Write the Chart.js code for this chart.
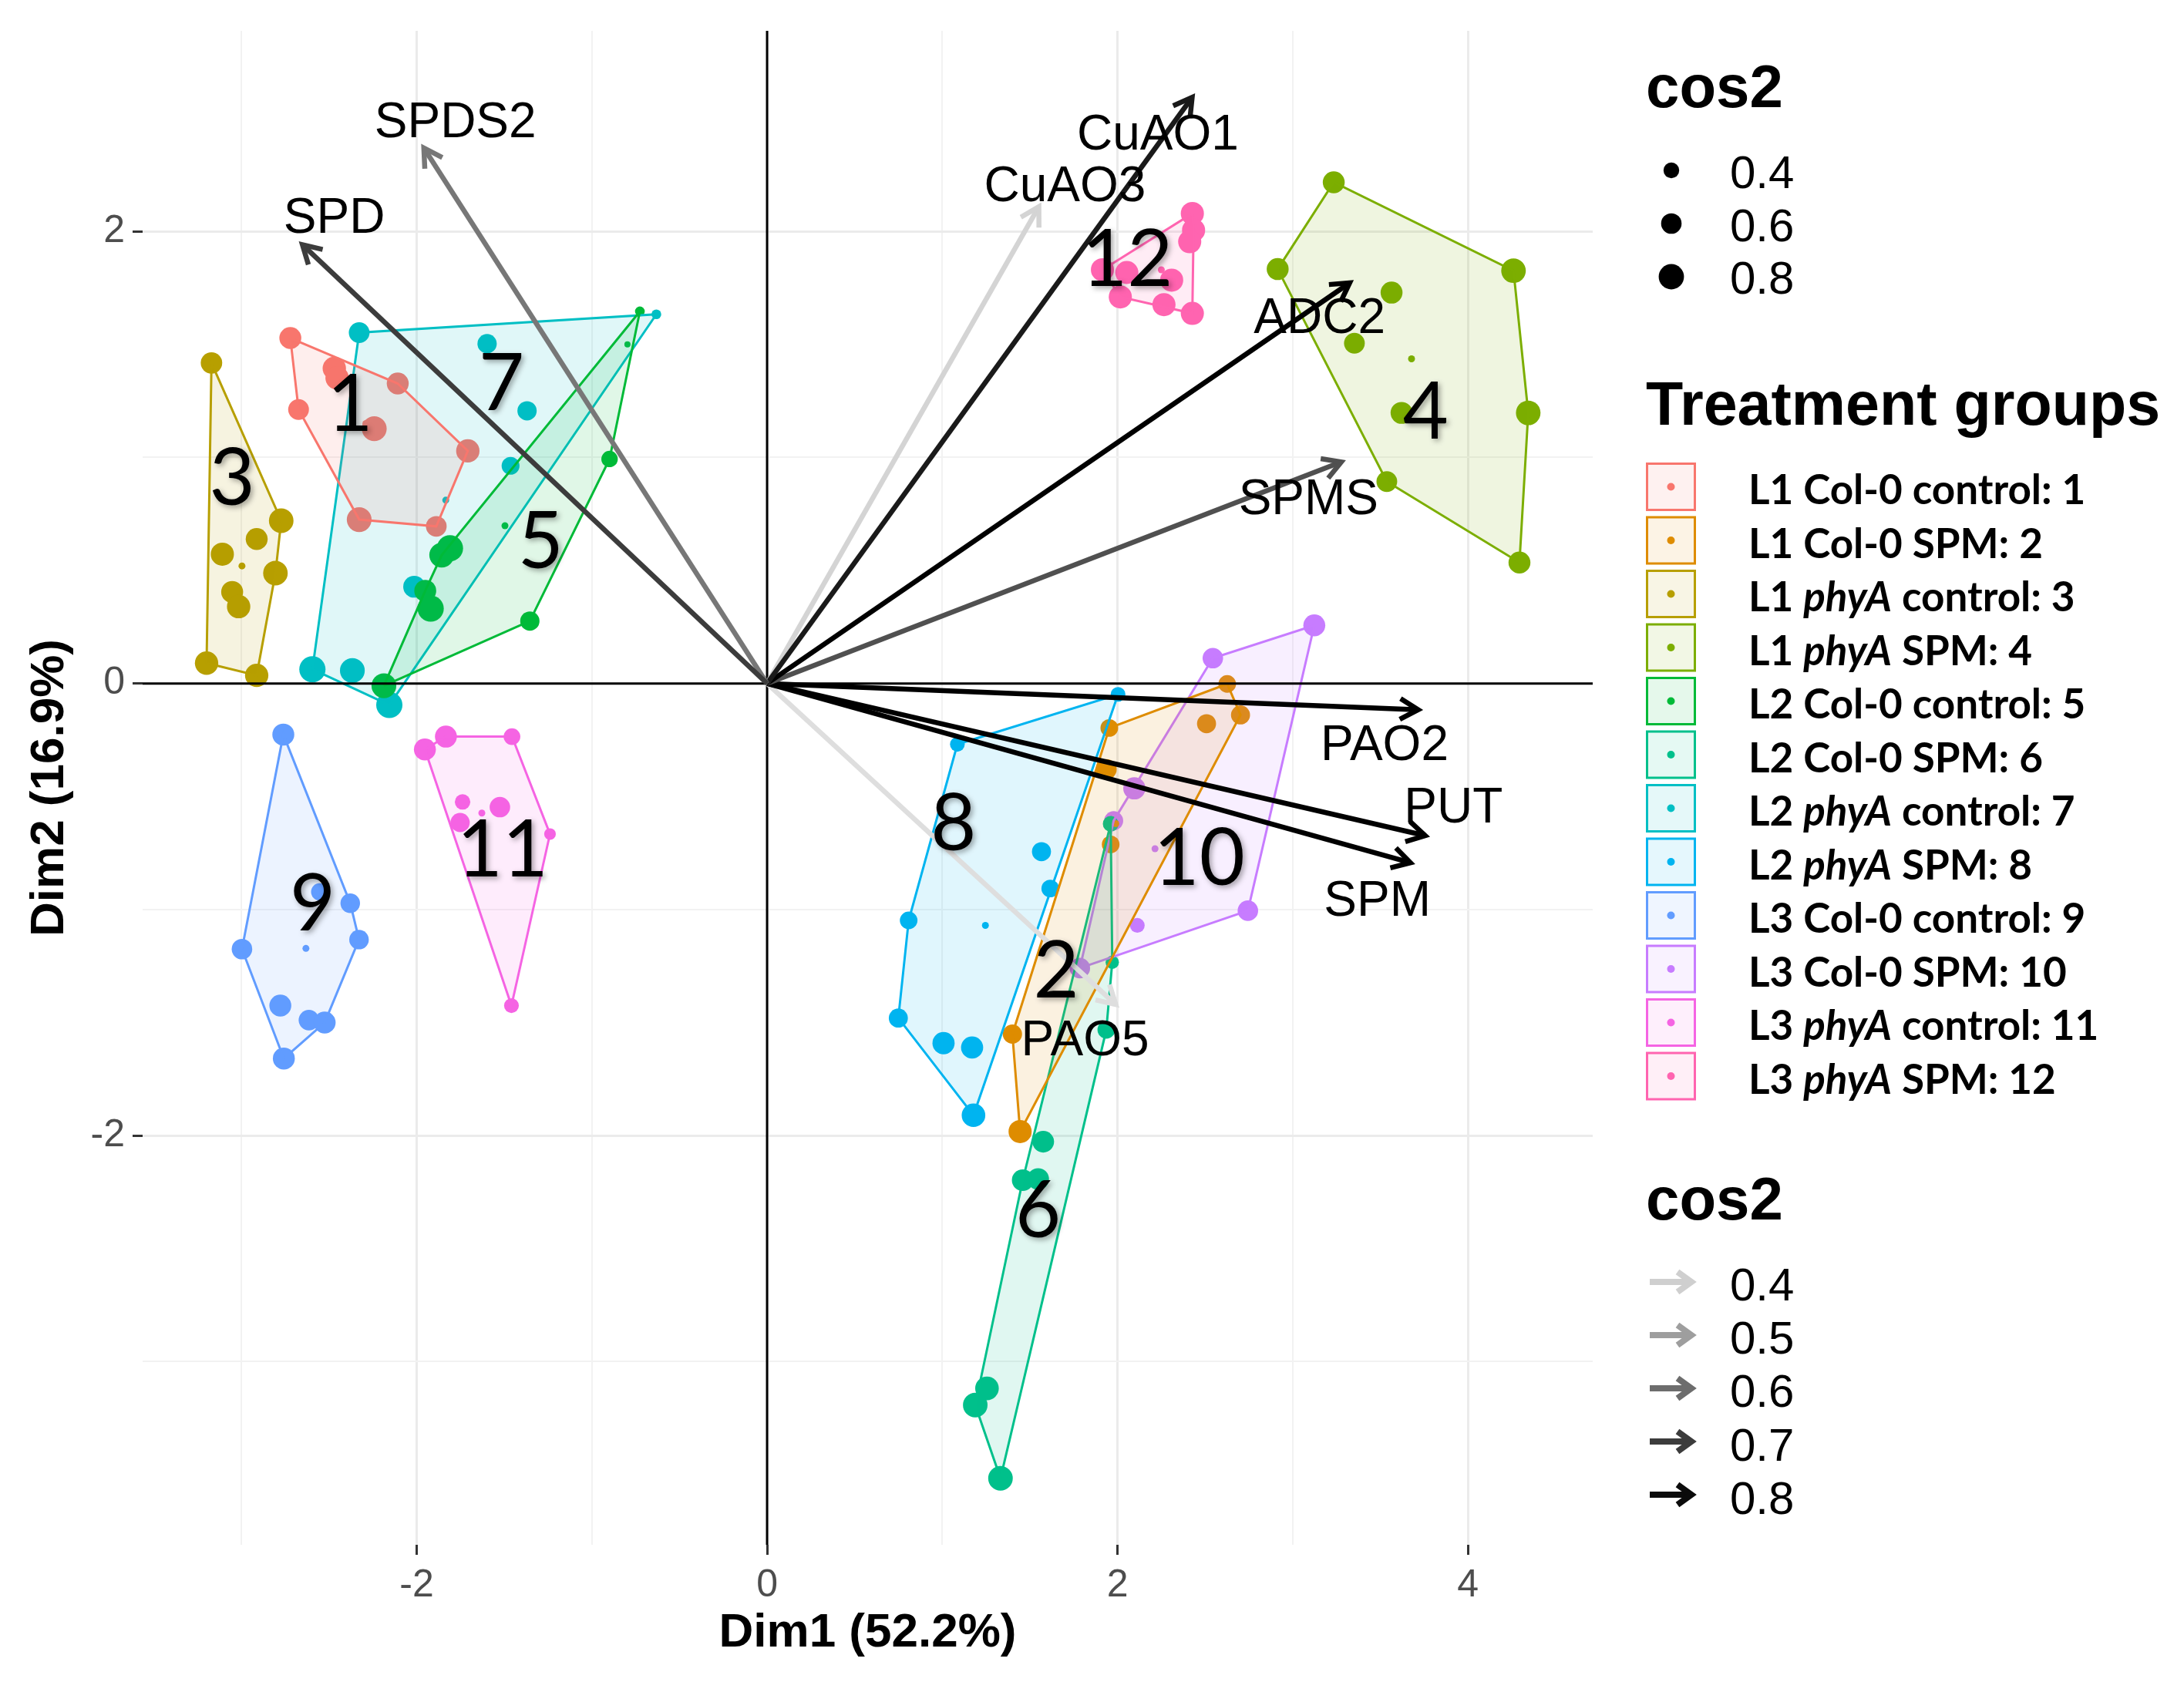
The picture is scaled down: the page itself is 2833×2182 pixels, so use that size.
<!DOCTYPE html>
<html>
<head>
<meta charset="utf-8">
<title>PCA biplot</title>
<script src="https://cdn.jsdelivr.net/npm/chart.js@4.4.1/dist/chart.umd.min.js"></script>
<style>
  html, body { margin: 0; padding: 0; background: #ffffff; }
  #wrap { position: relative; width: 2833px; height: 2182px; }
  canvas { display: block; }
</style>
</head>
<body>
<div id="wrap"><canvas id="biplot" width="2833" height="2182"></canvas></div>
<script>
// axis ranges and ticks
const xRange = [-3.564, 4.712];
const yRange = [-3.810, 2.887];
const xMajorTicks = [-2, 0, 2, 4];
const xMinorTicks = [-3, -1, 1, 3];
const yMajorTicks = [-2, 0, 2];
const yMinorTicks = [-3, -1, 1];

// treatment groups
const groupNames = [
  'L1 Col-0 control: 1', 'L1 Col-0 SPM: 2', 'L1 phyA control: 3', 'L1 phyA SPM: 4',
  'L2 Col-0 control: 5', 'L2 Col-0 SPM: 6', 'L2 phyA control: 7', 'L2 phyA SPM: 8',
  'L3 Col-0 control: 9', 'L3 Col-0 SPM: 10', 'L3 phyA control: 11', 'L3 phyA SPM: 12'
];
const groupColors = [
  '#F8766D', '#DE8C00', '#B79F00', '#7CAE00', '#00BA38', '#00C08B',
  '#00BFC4', '#00B4F0', '#619CFF', '#C77CFF', '#F564E3', '#FF64B0'
];

// individuals: [Dim1, Dim2, cos2]
const grp1 = [[-2.721, 1.528, 0.66], [-2.470, 1.394, 0.72], [-2.454, 1.352, 0.72], [-2.108, 1.327, 0.66],
  [-2.674, 1.212, 0.61], [-2.242, 1.127, 0.78], [-1.708, 1.029, 0.72], [-2.328, 0.725, 0.78], [-1.888, 0.695, 0.61]];
const grp2 = [[2.626, -0.002, 0.48], [2.702, -0.139, 0.54], [2.508, -0.178, 0.54], [1.953, -0.197, 0.48],
  [1.936, -0.380, 0.61], [1.961, -0.712, 0.48], [1.400, -1.551, 0.55], [1.444, -1.982, 0.71]];
const grp3 = [[-3.171, 1.418, 0.64], [-2.773, 0.720, 0.77], [-2.913, 0.639, 0.66], [-3.109, 0.572, 0.71],
  [-2.806, 0.488, 0.77], [-3.053, 0.405, 0.66], [-3.016, 0.340, 0.72], [-3.199, 0.090, 0.72], [-2.913, 0.036, 0.72]];
const grp4 = [[3.234, 2.217, 0.66], [2.914, 1.833, 0.66], [4.260, 1.826, 0.77], [3.564, 1.729, 0.66],
  [3.352, 1.505, 0.61], [3.621, 1.197, 0.66], [4.344, 1.197, 0.77], [3.537, 0.893, 0.61], [4.294, 0.535, 0.66]];
const grp5 = [[-0.726, 1.646, 0.15], [-0.797, 1.500, 0.0], [-0.899, 0.993, 0.43], [-1.810, 0.598, 0.84],
  [-1.857, 0.568, 0.78], [-1.951, 0.410, 0.66], [-1.920, 0.331, 0.84], [-1.354, 0.276, 0.55], [-2.187, -0.010, 0.78]];
const grp6 = [[1.961, -0.621, 0.40], [1.970, -1.233, 0.30], [1.936, -1.532, 0.48], [1.576, -2.027, 0.65],
  [1.459, -2.197, 0.65], [1.547, -2.192, 0.65], [1.255, -3.118, 0.73], [1.188, -3.192, 0.77], [1.332, -3.516, 0.77]];
const grp7 = [[-2.328, 1.552, 0.61], [-1.598, 1.503, 0.55], [-0.632, 1.633, 0.15], [-1.370, 1.206, 0.55],
  [-1.464, 0.963, 0.49], [-2.014, 0.428, 0.66], [-2.595, 0.063, 0.84], [-2.367, 0.057, 0.78], [-2.156, -0.095, 0.84]];
const grp8 = [[2.003, -0.048, 0.36], [1.086, -0.269, 0.36], [1.566, -0.744, 0.54], [1.616, -0.907, 0.48],
  [0.808, -1.048, 0.48], [0.749, -1.480, 0.54], [1.007, -1.591, 0.67], [1.170, -1.610, 0.67], [1.178, -1.910, 0.73]];
const grp9 = [[-2.761, -0.226, 0.66], [-2.379, -0.972, 0.56], [-2.329, -1.133, 0.56], [-2.553, -0.922, 0.47],
  [-2.997, -1.175, 0.60], [-2.778, -1.425, 0.66], [-2.615, -1.489, 0.60], [-2.525, -1.500, 0.66], [-2.758, -1.659, 0.66]];
const grp10 = [[3.123, 0.257, 0.66], [2.544, 0.112, 0.60], [2.096, -0.464, 0.67], [1.978, -0.607, 0.54],
  [2.113, -1.070, 0.36], [2.744, -1.005, 0.60], [1.785, -1.259, 0.60]];
const grp11 = [[-1.953, -0.292, 0.66], [-1.833, -0.235, 0.66], [-1.456, -0.235, 0.44], [-1.738, -0.524, 0.39],
  [-1.525, -0.547, 0.60], [-1.752, -0.615, 0.55], [-1.239, -0.666, 0.23], [-1.459, -1.425, 0.36]];
const grp12 = [[2.427, 2.079, 0.71], [2.434, 2.005, 0.71], [2.412, 1.954, 0.71], [1.914, 1.830, 0.71],
  [2.053, 1.818, 0.71], [2.309, 1.784, 0.71], [2.016, 1.710, 0.71], [2.265, 1.676, 0.71], [2.427, 1.637, 0.71]];
const groupPoints = [grp1, grp2, grp3, grp4, grp5, grp6, grp7, grp8, grp9, grp10, grp11, grp12];

// group mean points and group number labels
const groupMeanX = [-2.29, 1.99, -2.997, 3.678, -1.496, 1.58, -1.834, 1.246, -2.632, 2.214, -1.628, 2.25];
const groupMeanY = [1.15, -0.62, 0.520, 1.436, 0.698, -2.18, 0.811, -1.070, -1.172, -0.731, -0.573, 1.83];
const groupLabelX = [-2.38, 1.65, -3.053, 3.759, -1.292, 1.547, -1.516, 1.064, -2.593, 2.467, -1.51, 2.056];
const groupLabelY = [1.245, -1.262, 0.915, 1.208, 0.638, -2.323, 1.337, -0.610, -0.966, -0.766, -0.728, 1.884];

// variables (arrows)
const varNames = ['SPD', 'SPDS2', 'CuAO1', 'CuAO3', 'ADC2', 'SPMS', 'PAO2', 'PUT', 'SPM', 'PAO5'];
const varX = [-2.652, -1.959, 2.426, 1.551, 3.325, 3.277, 3.716, 3.756, 3.672, 1.99];
const varY = [1.941, 2.369, 2.593, 2.109, 1.772, 0.980, -0.116, -0.673, -0.793, -1.42];
const varCos2 = [0.70, 0.58, 0.77, 0.39, 0.86, 0.66, 0.84, 0.87, 0.85, 0.37];
const varLabelX = [-2.47, -1.779, 2.23, 1.70, 3.153, 3.09, 3.524, 3.917, 3.483, 1.815];
const varLabelY = [2.072, 2.495, 2.441, 2.213, 1.628, 0.828, -0.262, -0.538, -0.948, -1.565];

// legend values
const sizeLegendValues = [0.4, 0.6, 0.8];
const colorLegendValues = [0.4, 0.5, 0.6, 0.7, 0.8];

const SANS = '"Liberation Sans", Arial, sans-serif';
Chart.defaults.font.family = SANS;
Chart.defaults.font.size = 50;

// cos2 -> point radius, cos2 -> arrow grey
function radiusFor(c) { return 4 + 15.5 * c; }
function greyFor(c) {
  const v = Math.round(Math.max(0, Math.min(225, 207 - (c - 0.4) * 490)));
  return 'rgb(' + v + ',' + v + ',' + v + ')';
}
function withAlpha(hex, a) {
  const n = parseInt(hex.slice(1), 16);
  return 'rgba(' + (n >> 16) + ',' + ((n >> 8) & 255) + ',' + (n & 255) + ',' + a + ')';
}

// convex hull (monotone chain), closed
function convexHull(pts) {
  const p = pts.map(q => ({x: q[0], y: q[1]})).sort((a, b) => a.x - b.x || a.y - b.y);
  const cross = (o, a, b) => (a.x - o.x) * (b.y - o.y) - (a.y - o.y) * (b.x - o.x);
  const lower = [], upper = [];
  p.forEach(q => {
    while (lower.length >= 2 && cross(lower[lower.length - 2], lower[lower.length - 1], q) <= 0) lower.pop();
    lower.push(q);
  });
  for (let i = p.length - 1; i >= 0; i--) {
    const q = p[i];
    while (upper.length >= 2 && cross(upper[upper.length - 2], upper[upper.length - 1], q) <= 0) upper.pop();
    upper.push(q);
  }
  lower.pop(); upper.pop();
  const hull = lower.concat(upper);
  hull.push(hull[0]);
  return hull;
}

const datasets = [];

// arrows on top
varNames.forEach((name, i) => {
  datasets.push({
    type: 'line', label: name, arrow: true,
    data: [{x: 0, y: 0}, {x: varX[i], y: varY[i]}],
    borderColor: greyFor(varCos2[i]), borderWidth: 6.5,
    pointRadius: 0, pointHitRadius: 0, fill: false, order: 1
  });
});

// reference lines at 0
datasets.push({
  type: 'line', data: [{x: xRange[0], y: 0}, {x: xRange[1], y: 0}],
  borderColor: '#000000', borderWidth: 3, pointRadius: 0, fill: false, order: 2
});
datasets.push({
  type: 'line', data: [{x: 0, y: yRange[0]}, {x: 0, y: yRange[1]}],
  borderColor: '#000000', borderWidth: 3, pointRadius: 0, fill: false, order: 2
});

// convex hulls
groupPoints.forEach((pts, g) => {
  datasets.push({
    type: 'line', data: convexHull(pts),
    borderColor: groupColors[g], borderWidth: 3,
    backgroundColor: withAlpha(groupColors[g], 0.12), fill: 'shape',
    pointRadius: 0, pointHitRadius: 0, tension: 0, order: 3
  });
});

// group means
datasets.push({
  type: 'scatter',
  data: groupMeanX.map((x, i) => ({x: x, y: groupMeanY[i]})),
  pointRadius: 4.5, pointBackgroundColor: groupColors, pointBorderWidth: 0, order: 3.5
});

// individuals
groupPoints.forEach((pts, g) => {
  datasets.push({
    type: 'scatter',
    data: pts.map(p => ({x: p[0], y: p[1]})),
    pointRadius: pts.map(p => radiusFor(p[2])),
    pointBackgroundColor: groupColors[g], pointBorderWidth: 0, order: 4
  });
});

// arrow heads for the variable segments
const arrowHeads = {
  id: 'arrowHeads',
  afterDatasetsDraw(chart) {
    const ctx = chart.ctx;
    const area = chart.chartArea;
    chart.data.datasets.forEach((ds, i) => {
      if (!ds.arrow) return;
      const pts = chart.getDatasetMeta(i).data;
      const a = pts[0], b = pts[1];
      const ang = Math.atan2(b.y - a.y, b.x - a.x);
      const L = 27;
      ctx.save();
      ctx.beginPath();
      ctx.rect(area.left, area.top, area.right - area.left, area.bottom - area.top);
      ctx.clip();
      ctx.strokeStyle = ds.borderColor;
      ctx.lineWidth = ds.borderWidth;
      ctx.lineJoin = 'miter';
      ctx.beginPath();
      ctx.moveTo(b.x - L * Math.cos(ang - Math.PI / 6), b.y - L * Math.sin(ang - Math.PI / 6));
      ctx.lineTo(b.x, b.y);
      ctx.lineTo(b.x - L * Math.cos(ang + Math.PI / 6), b.y - L * Math.sin(ang + Math.PI / 6));
      ctx.stroke();
      ctx.restore();
    });
  }
};

// variable names and big group numbers
const plotLabels = {
  id: 'plotLabels',
  afterDraw(chart) {
    const ctx = chart.ctx;
    const xs = chart.scales.x, ys = chart.scales.y;
    ctx.save();
    ctx.textAlign = 'center';
    ctx.textBaseline = 'alphabetic';
    ctx.fillStyle = '#000000';
    ctx.font = '64px ' + SANS;
    varNames.forEach((name, i) => {
      ctx.fillText(name, xs.getPixelForValue(varLabelX[i]), ys.getPixelForValue(varLabelY[i]) + 23);
    });
    ctx.font = '102px Lato, "Open Sans", sans-serif';
    ctx.shadowColor = 'rgba(0,0,0,0.35)';
    ctx.shadowBlur = 7;
    ctx.shadowOffsetX = 3;
    ctx.shadowOffsetY = 3;
    groupLabelX.forEach((x, i) => {
      ctx.fillText(String(i + 1), xs.getPixelForValue(x), ys.getPixelForValue(groupLabelY[i]) + 37);
    });
    ctx.restore();
  }
};

// right-hand legends
const sideLegends = {
  id: 'sideLegends',
  afterDraw(chart) {
    const ctx = chart.ctx;
    const left = 2135;
    ctx.save();
    ctx.textAlign = 'left';
    ctx.textBaseline = 'alphabetic';
    ctx.fillStyle = '#000000';

    // size legend
    ctx.font = 'bold 78px ' + SANS;
    ctx.fillText('cos2', left, 139);
    sizeLegendValues.forEach((v, i) => {
      ctx.beginPath();
      ctx.arc(2168, 221 + i * 69, radiusFor(v), 0, Math.PI * 2);
      ctx.fillStyle = '#000000';
      ctx.fill();
      ctx.font = '60px ' + SANS;
      ctx.fillText(v.toFixed(1), 2244, 244 + i * 68.5);
    });

    // treatment groups legend
    ctx.font = 'bold 79px ' + SANS;
    ctx.fillText('Treatment groups', left, 551);
    groupNames.forEach((name, i) => {
      const top = 600 + i * 69.5;
      ctx.fillStyle = withAlpha(groupColors[i], 0.1);
      ctx.fillRect(left + 1.5, top + 1.5, 62, 60);
      ctx.strokeStyle = groupColors[i];
      ctx.lineWidth = 3;
      ctx.strokeRect(left + 1.5, top + 1.5, 62, 60);
      ctx.beginPath();
      ctx.arc(left + 32.5, top + 31.5, 5, 0, Math.PI * 2);
      ctx.fillStyle = groupColors[i];
      ctx.fill();

      ctx.fillStyle = '#000000';
      let x = 2268;
      const y = 654 + i * 69.5;
      const parts = name.split('phyA');
      ctx.font = 'bold 53px Lato, "Open Sans", sans-serif';
      ctx.fillText(parts[0], x, y);
      x += ctx.measureText(parts[0]).width;
      if (parts.length > 1) {
        ctx.font = 'italic bold 53px Lato, "Open Sans", sans-serif';
        ctx.fillText('phyA', x, y);
        x += ctx.measureText('phyA').width;
        ctx.font = 'bold 53px Lato, "Open Sans", sans-serif';
        ctx.fillText(parts[1], x, y);
      }
    });

    // arrow colour legend
    ctx.font = 'bold 78px ' + SANS;
    ctx.fillText('cos2', left, 1582);
    colorLegendValues.forEach((v, i) => {
      const cy = 1663 + i * 69;
      const col = greyFor(v);
      ctx.strokeStyle = col;
      ctx.lineWidth = 8;
      ctx.lineJoin = 'miter';
      ctx.beginPath();
      ctx.moveTo(2140, cy);
      ctx.lineTo(2192, cy);
      ctx.stroke();
      ctx.beginPath();
      ctx.moveTo(2176, cy - 13);
      ctx.lineTo(2194, cy);
      ctx.lineTo(2176, cy + 13);
      ctx.stroke();
      ctx.fillStyle = '#000000';
      ctx.font = '60px ' + SANS;
      ctx.fillText(v.toFixed(1), 2244, 1687 + i * 69.2);
    });
    ctx.restore();
  }
};

const xMajorSet = new Set(xMajorTicks);
const yMajorSet = new Set(yMajorTicks);

function axisTicks(major, minor) {
  return major.concat(minor).sort((a, b) => a - b).map(v => ({value: v}));
}

const tickFont = {family: SANS, size: 50, weight: 'normal'};

new Chart(document.getElementById('biplot'), {
  type: 'scatter',
  data: {datasets: datasets},
  options: {
    responsive: false,
    devicePixelRatio: 1,
    animation: false,
    events: [],
    layout: {padding: {top: 36, right: 767, left: 0, bottom: 0}},
    plugins: {
      legend: {display: false},
      tooltip: {enabled: false}
    },
    scales: {
      x: {
        type: 'linear',
        min: xRange[0],
        max: xRange[1],
        afterBuildTicks: axis => { axis.ticks = axisTicks(xMajorTicks, xMinorTicks); },
        afterFit: axis => { axis.height = 178; },
        border: {display: false},
        grid: {
          color: ctx => (ctx.tick && xMajorSet.has(ctx.tick.value)) ? '#EBEBEB' : '#F2F2F2',
          lineWidth: ctx => (ctx.tick && xMajorSet.has(ctx.tick.value)) ? 3 : 2,
          tickColor: ctx => (ctx.tick && xMajorSet.has(ctx.tick.value)) ? '#333333' : 'rgba(0,0,0,0)',
          tickLength: 13,
          tickWidth: 3
        },
        ticks: {
          autoSkip: false,
          maxRotation: 0,
          padding: 10,
          color: '#4D4D4D',
          font: tickFont,
          callback: v => xMajorSet.has(v) ? String(v) : ''
        },
        title: {
          display: true,
          text: 'Dim1 (52.2%)',
          color: '#000000',
          font: {family: SANS, size: 62, weight: 'bold'},
          padding: {top: 0, bottom: 26}
        }
      },
      y: {
        type: 'linear',
        min: yRange[0],
        max: yRange[1],
        afterBuildTicks: axis => { axis.ticks = axisTicks(yMajorTicks, yMinorTicks); },
        afterFit: axis => { axis.width = 185; },
        border: {display: false},
        grid: {
          color: ctx => (ctx.tick && yMajorSet.has(ctx.tick.value)) ? '#EBEBEB' : '#F2F2F2',
          lineWidth: ctx => (ctx.tick && yMajorSet.has(ctx.tick.value)) ? 3 : 2,
          tickColor: ctx => (ctx.tick && yMajorSet.has(ctx.tick.value)) ? '#333333' : 'rgba(0,0,0,0)',
          tickLength: 13,
          tickWidth: 3
        },
        ticks: {
          autoSkip: false,
          padding: 10,
          color: '#4D4D4D',
          font: tickFont,
          callback: v => yMajorSet.has(v) ? String(v) : ''
        },
        title: {
          display: true,
          text: 'Dim2 (16.9%)',
          color: '#000000',
          font: {family: SANS, size: 62, weight: 'bold'},
          padding: {top: 28, bottom: 0}
        }
      }
    }
  },
  plugins: [arrowHeads, plotLabels, sideLegends]
});
</script>
</body>
</html>
